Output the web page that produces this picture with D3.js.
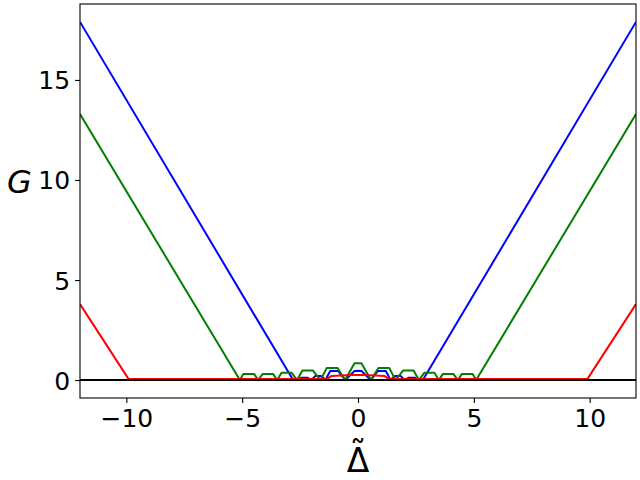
<!DOCTYPE html>
<html><head><meta charset="utf-8">
<script src="https://cdn.jsdelivr.net/npm/d3@7"></script>
<style>body{margin:0;background:#fff}svg{display:block}text{font-family:"DejaVu Sans",sans-serif;fill:#000}</style>
</head><body><svg id="c" width="640" height="480"></svg>
<script>
const blueX = [-12,-2.8,-2.6,-2.45,-2.2,-2.0,-1.85,-1.6,-1.4,-1.2,-0.85,-0.55,-0.15,0,0.15,0.55,0.85,1.2,1.4,1.6,1.85,2.0,2.2,2.45,2.6,2.8,12];
const blueY = [17.9,0,0,0.12,0.12,0.02,0.2,0.2,0.02,0.45,0.45,0,0.45,0.47,0.45,0,0.45,0.45,0.02,0.2,0.2,0.02,0.12,0.12,0,0,17.9];
const greenX = [-12,-5.10,-4.95,-4.48,-4.31,-4.12,-3.66,-3.49,-3.30,-2.87,-2.63,-2.40,-1.95,-1.62,-1.35,-0.88,-0.56,-0.15,0.15,0.56,0.88,1.35,1.62,1.95,2.40,2.63,2.87,3.30,3.49,3.66,4.12,4.31,4.48,4.95,5.10,12];
const greenY = [13.3,0,0.30,0.30,0,0.30,0.30,0,0.37,0.37,0,0.48,0.48,0,0.6,0.6,0,0.84,0.84,0,0.6,0.6,0,0.48,0.48,0,0.37,0.37,0,0.30,0.30,0,0.30,0.30,0,13.3];
const redX = [-12,-9.9,-1.35,-1.15,-0.3,0,0.3,1.15,1.35,9.9,12];
const redY = [3.8,0.05,0.05,0.2,0.25,0.25,0.25,0.2,0.05,0.05,3.8];
const xTicks = [-10,-5,0,5,10];
const yTicks = [0,5,10,15];

const svg = d3.select("#c");
const m = {l:80, r:4, t:4, b:82};
const W = 640, H = 480;
const x = d3.scaleLinear().domain([-12,12]).range([m.l, W-m.r]);
const y = d3.scaleLinear().domain([-0.895,18.795]).range([H-m.b, m.t]);
const line = d3.line().x(d=>x(d[0])).y(d=>y(d[1]));

const series = [
  {xs:blueX, ys:blueY, c:"#0000ff"},
  {xs:greenX, ys:greenY, c:"#008000"},
  {xs:redX, ys:redY, c:"#ff0000"}
];
const g = svg.append("g");
g.append("clipPath").attr("id","clip").append("rect")
  .attr("x",m.l).attr("y",m.t).attr("width",W-m.l-m.r).attr("height",H-m.t-m.b);
const plot = g.append("g").attr("clip-path","url(#clip)");
series.forEach(s=>{
  plot.append("path").datum(s.xs.map((v,i)=>[v,s.ys[i]]))
    .attr("d",line).attr("fill","none").attr("stroke",s.c).attr("stroke-width",2)
    .attr("stroke-linejoin","round");
});
plot.append("line").attr("x1",m.l).attr("x2",W-m.r).attr("y1",y(0)).attr("y2",y(0))
  .attr("stroke","#000").attr("stroke-width",2);

const xa = svg.append("g").attr("transform",`translate(0,${H-m.b})`)
  .call(d3.axisBottom(x).tickValues(xTicks).tickSize(4.9).tickPadding(4));
const ya = svg.append("g").attr("transform",`translate(${m.l},0)`)
  .call(d3.axisLeft(y).tickValues(yTicks).tickSize(4.9).tickPadding(5));
[xa,ya].forEach(a=>{
  a.select(".domain").remove();
  a.selectAll(".tick line").attr("stroke","#000").attr("stroke-width",1.1);
  a.selectAll("text").attr("font-size",25).attr("font-family","DejaVu Sans").attr("fill","#000");
});
xa.selectAll("text").attr("dy",null).attr("y",29);
ya.selectAll("text").attr("dy","0.36em");

svg.append("rect").attr("x",m.l).attr("y",m.t).attr("width",W-m.l-m.r).attr("height",H-m.t-m.b)
  .attr("fill","none").attr("stroke","#000").attr("stroke-width",1.1);

svg.append("text").attr("x",7).attr("y",193).attr("font-size",32).attr("font-style","italic").text("G");
svg.append("text").attr("x",`${x(0)} ${x(0)}`).attr("y","465 472").attr("text-anchor","middle")
  .attr("font-size",33).text("˜Δ");
</script></body></html>
